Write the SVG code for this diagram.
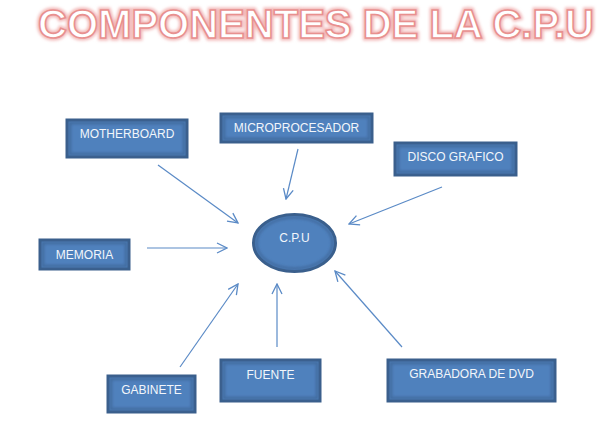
<svg xmlns="http://www.w3.org/2000/svg" width="613" height="431" viewBox="0 0 613 431">
<defs>
<style>
.box{fill:#4f81bd;stroke:#3a5f8c;stroke-width:3}
.inner{fill:none;stroke:#41699c;stroke-width:3;opacity:0.8}
.lbl{font-family:"Liberation Sans",Arial,sans-serif;font-size:12px;fill:#f2f6fb;text-anchor:middle;dominant-baseline:central}
.con{stroke:#5a8ac6;stroke-width:1.2;fill:none;marker-end:url(#arr)}
.title{font-family:"Liberation Sans",Arial,sans-serif;font-weight:bold;font-size:40px}
</style>
<marker id="arr" viewBox="0 0 12 12" refX="11" refY="6" markerWidth="12" markerHeight="12" markerUnits="userSpaceOnUse" orient="auto">
<path d="M1,1 L11,6 L1,11" fill="none" stroke="#5a8ac6" stroke-width="1.3"/>
</marker>
<filter id="glow" x="-10%" y="-50%" width="120%" height="200%">
<feGaussianBlur stdDeviation="1.5"/>
</filter>
<filter id="soft" x="-10%" y="-10%" width="120%" height="120%">
<feGaussianBlur stdDeviation="1"/>
</filter>
</defs>
<rect width="613" height="431" fill="#ffffff"/>
<g id="title">
<text class="title" x="38" y="38" textLength="556" lengthAdjust="spacingAndGlyphs" fill="none" stroke="#f2b8b8" stroke-width="5" filter="url(#glow)">COMPONENTES DE LA C.P.U</text>
<text class="title" x="38" y="38" textLength="556" lengthAdjust="spacingAndGlyphs" fill="#ffffff" stroke="#e8908f" stroke-width="1.6">COMPONENTES DE LA C.P.U</text>
</g>
<g id="connectors">
<line class="con" x1="158" y1="165" x2="238" y2="223"/>
<line class="con" x1="298" y1="149" x2="286" y2="199"/>
<line class="con" x1="442" y1="187" x2="349" y2="224"/>
<line class="con" x1="147" y1="248" x2="227" y2="248"/>
<line class="con" x1="180" y1="367" x2="238" y2="284"/>
<line class="con" x1="277" y1="347" x2="277" y2="284"/>
<line class="con" x1="402" y1="347" x2="335" y2="271"/>
</g>
<g id="cpu">
<ellipse cx="294.5" cy="243" rx="41" ry="28.5" fill="#4f81bd" stroke="#3a5f8c" stroke-width="3"/>
<ellipse cx="294.5" cy="243" rx="38" ry="25.5" fill="none" stroke="#41699c" stroke-width="3" opacity="0.7" filter="url(#soft)"/>
<text class="lbl" x="294.5" y="238">C.P.U</text>
</g>
<g id="motherboard">
<rect class="box" x="67" y="120" width="120" height="37"/>
<rect class="inner" x="70" y="123" width="114" height="31" filter="url(#soft)"/>
<text class="lbl" x="127" y="134">MOTHERBOARD</text>
</g>
<g id="microprocesador">
<rect class="box" x="221" y="114" width="151" height="28"/>
<rect class="inner" x="224" y="117" width="145" height="22" filter="url(#soft)"/>
<text class="lbl" x="296.5" y="128">MICROPROCESADOR</text>
</g>
<g id="disco">
<rect class="box" x="395" y="143" width="121" height="32"/>
<rect class="inner" x="398" y="146" width="115" height="26" filter="url(#soft)"/>
<text class="lbl" x="455.5" y="157">DISCO GRAFICO</text>
</g>
<g id="memoria">
<rect class="box" x="40" y="240" width="89" height="29"/>
<rect class="inner" x="43" y="243" width="83" height="23" filter="url(#soft)"/>
<text class="lbl" x="84.5" y="254.5">MEMORIA</text>
</g>
<g id="gabinete">
<rect class="box" x="108" y="376" width="87" height="36"/>
<rect class="inner" x="111" y="379" width="81" height="30" filter="url(#soft)"/>
<text class="lbl" x="151.5" y="390">GABINETE</text>
</g>
<g id="fuente">
<rect class="box" x="221" y="360" width="99" height="41"/>
<rect class="inner" x="224" y="363" width="93" height="35" filter="url(#soft)"/>
<text class="lbl" x="270.5" y="375">FUENTE</text>
</g>
<g id="grabadora">
<rect class="box" x="388" y="360" width="167" height="41"/>
<rect class="inner" x="391" y="363" width="161" height="35" filter="url(#soft)"/>
<text class="lbl" x="471.5" y="374">GRABADORA DE DVD</text>
</g>
</svg>
